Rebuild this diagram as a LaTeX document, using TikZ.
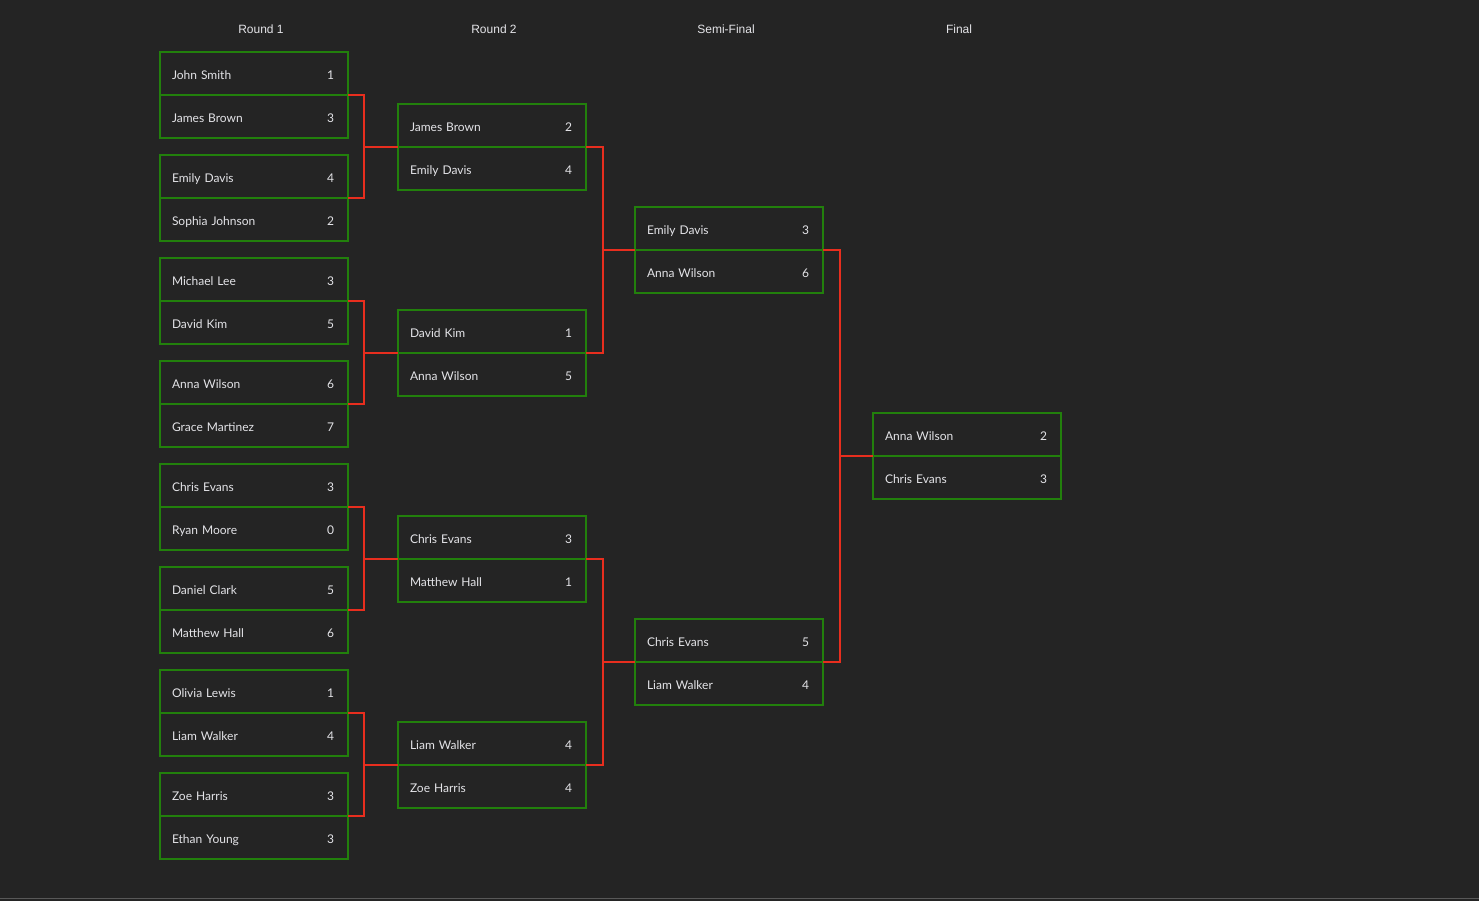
\documentclass[tikz,border=0pt]{standalone}
\usepackage{fontspec}
\setmainfont{Lato}
\newfontfamily\headfont{Liberation Sans}
\usetikzlibrary{positioning}

\definecolor{bgdark}{RGB}{36,36,36}
\definecolor{matchgreen}{RGB}{34,128,12}
\definecolor{linkred}{RGB}{232,46,30}
\definecolor{namegray}{RGB}{228,228,232}
\definecolor{edgegray}{RGB}{88,88,88}

\tikzset{
  slot/.style={draw=matchgreen, rectangle, anchor=north west,
    minimum width=188pt, minimum height=43pt, inner xsep=12pt, inner ysep=0pt,
    outer sep=0pt, text width=164pt, text height=12pt, text depth=0pt,
    text=namegray, font=\fontsize{12}{14}\selectfont},
  topslot/.style={slot, line width=1.8pt},
  lowslot/.style={slot, line width=1.2pt},
  wire/.style={draw=linkred, line width=1.8pt},
  heading/.style={text=namegray, font=\headfont\fontsize{12}{14}\selectfont}
}

% one match: name, x, y, player 1, score 1, player 2, score 2
\newcommand{\match}[7]{%
  \node[topslot] (#1-a) at (#2,#3) {#4\hfill#5\hspace*{2pt}};
  \node[lowslot, below=0pt of #1-a] (#1-b) {#6\hfill#7\hspace*{2pt}};
}

\begin{document}
\begin{tikzpicture}[x=1pt, y=-1pt]
    % Background
    \fill[bgdark] (0,0) rectangle (1479,901);
    \useasboundingbox (0,0) rectangle (1479,901);
    \draw[edgegray, line width=1pt] (0,898.5) -- (1479,898.5);

    % Headings
    \node[heading] (h1) at (261,29) {Round 1};
    \node[heading] (h2) at (494,29) {Round 2};
    \node[heading] (h3) at (726,29) {Semi-Final};
    \node[heading] (h4) at (959,29) {Final};

    % Round 1
    \match{r1m1}{160}{52}{John Smith}{1}{James Brown}{3}
    \match{r1m2}{160}{155}{Emily Davis}{4}{Sophia Johnson}{2}
    \match{r1m3}{160}{258}{Michael Lee}{3}{David Kim}{5}
    \match{r1m4}{160}{361}{Anna Wilson}{6}{Grace Martinez}{7}
    \match{r1m5}{160}{464}{Chris Evans}{3}{Ryan Moore}{0}
    \match{r1m6}{160}{567}{Daniel Clark}{5}{Matthew Hall}{6}
    \match{r1m7}{160}{670}{Olivia Lewis}{1}{Liam Walker}{4}
    \match{r1m8}{160}{773}{Zoe Harris}{3}{Ethan Young}{3}

    % Round 2
    \match{r2m1}{398}{104}{James Brown}{2}{Emily Davis}{4}
    \match{r2m2}{398}{310}{David Kim}{1}{Anna Wilson}{5}
    \match{r2m3}{398}{516}{Chris Evans}{3}{Matthew Hall}{1}
    \match{r2m4}{398}{722}{Liam Walker}{4}{Zoe Harris}{4}

    % Semi-final
    \match{sf1}{635}{207}{Emily Davis}{3}{Anna Wilson}{6}
    \match{sf2}{635}{619}{Chris Evans}{5}{Liam Walker}{4}

    % Final
    \match{fin}{873}{413}{Anna Wilson}{2}{Chris Evans}{3}

    % Links round 1 -> round 2
    \foreach \i/\j/\k in {1/2/1, 3/4/2, 5/6/3, 7/8/4} {
        \draw[wire] (r1m\i-a.south east) -- ++(16,0) |- (r1m\j-a.south east);
        \draw[wire] (r2m\k-a.south west) -- ++(-34,0);
    }

    % Links round 2 -> semi-final
    \foreach \i/\j/\k in {1/2/1, 3/4/2} {
        \draw[wire] (r2m\i-a.south east) -- ++(17,0) |- (r2m\j-a.south east);
        \draw[wire] (sf\k-a.south west) -- ++(-33,0);
    }

    % Links semi-final -> final
    \draw[wire] (sf1-a.south east) -- ++(17,0) |- (sf2-a.south east);
    \draw[wire] (fin-a.south west) -- ++(-33,0);
\end{tikzpicture}
\end{document}
